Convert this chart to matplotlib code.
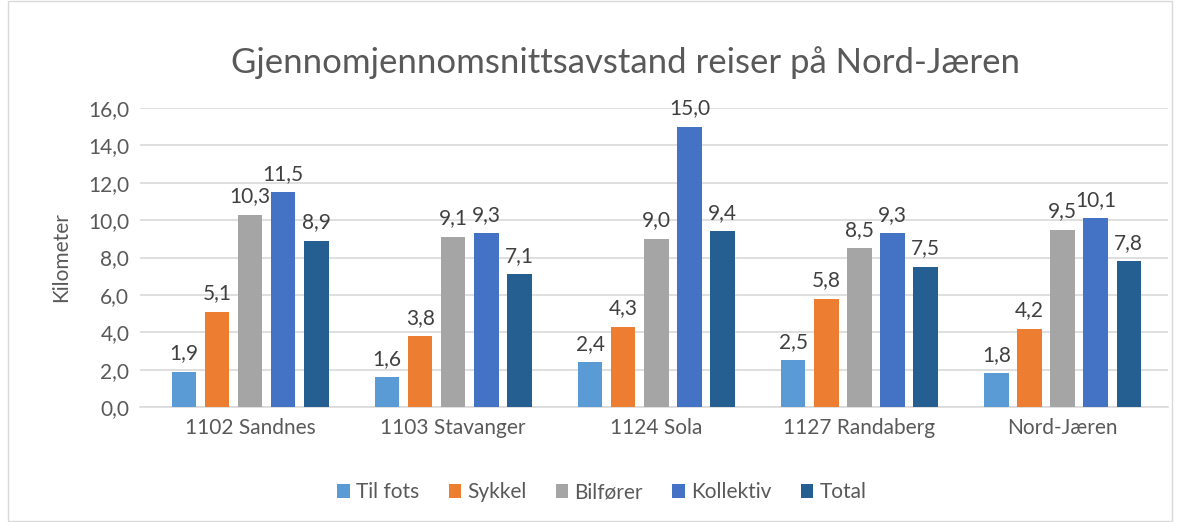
import numpy as np
import matplotlib.pyplot as plt
from matplotlib.patches import Rectangle

regions = ['1102 Sandnes', '1103 Stavanger', '1124 Sola', '1127 Randaberg', 'Nord-Jæren']
series = ['Til fots', 'Sykkel', 'Bilfører', 'Kollektiv', 'Total']
til_fots = [1.9, 1.6, 2.4, 2.5, 1.8]
sykkel = [5.1, 3.8, 4.3, 5.8, 4.2]
bilforer = [10.3, 9.1, 9.0, 8.5, 9.5]
kollektiv = [11.5, 9.3, 15.0, 9.3, 10.1]
total = [8.9, 7.1, 9.4, 7.5, 7.8]
colors = ['#5B9BD5', '#ED7D31', '#A5A5A5', '#4472C4', '#255E91']

plt.rcParams['font.family'] = ['Lato', 'DejaVu Sans']
txt = '#595959'

fig = plt.figure(figsize=(11.8, 5.22), dpi=100)
ax = fig.add_axes([0.119, 0.2203, 0.871, 0.5727])

x = np.arange(len(regions))
step = 0.163
w = 0.12
for i, (name, vals) in enumerate(zip(series, [til_fots, sykkel, bilforer, kollektiv, total])):
    bars = ax.bar(x + (i - 2) * step, vals, w, color=colors[i], label=name, zorder=3)
    for b, v in zip(bars, vals):
        ax.text(b.get_x() + b.get_width() / 2, v + 0.45, f'{v:.1f}'.replace('.', ','),
                ha='center', va='bottom', fontsize=15, color='#404040')

ax.set_xlim(-0.54, 4.52)
ax.set_ylim(0, 16)
ax.set_yticks(np.arange(0, 17, 2))
ax.set_yticklabels([f'{t:.1f}'.replace('.', ',') for t in np.arange(0, 17, 2)])
ax.set_xticks(x)
ax.set_xticklabels(regions)
ax.tick_params(axis='both', length=0, labelsize=15, colors=txt, pad=8)
ax.grid(axis='y', color='#D9D9D9', linewidth=1.2, zorder=0)
for s in ['top', 'right', 'left']:
    ax.spines[s].set_visible(False)
ax.spines['bottom'].set_color('#D9D9D9')
ax.spines['bottom'].set_linewidth(1.2)
ax.set_ylabel('Kilometer', fontsize=15, color=txt, labelpad=12)

fig.text(0.53, 0.88, 'Gjennomjennomsnittsavstand reiser på Nord-Jæren',
         ha='center', va='center', fontsize=25, color=txt)

fig.legend(loc='center', bbox_to_anchor=(0.51, 0.057), ncol=5, frameon=False,
           fontsize=15, labelcolor=txt, handlelength=0.6, handleheight=0.6,
           handletextpad=0.3, columnspacing=1.4)

fig.add_artist(Rectangle((0.007, 0.002), 0.986, 0.996, transform=fig.transFigure,
                         fill=False, edgecolor='#D9D9D9', linewidth=1))

fig.savefig('out.png', dpi=100)
